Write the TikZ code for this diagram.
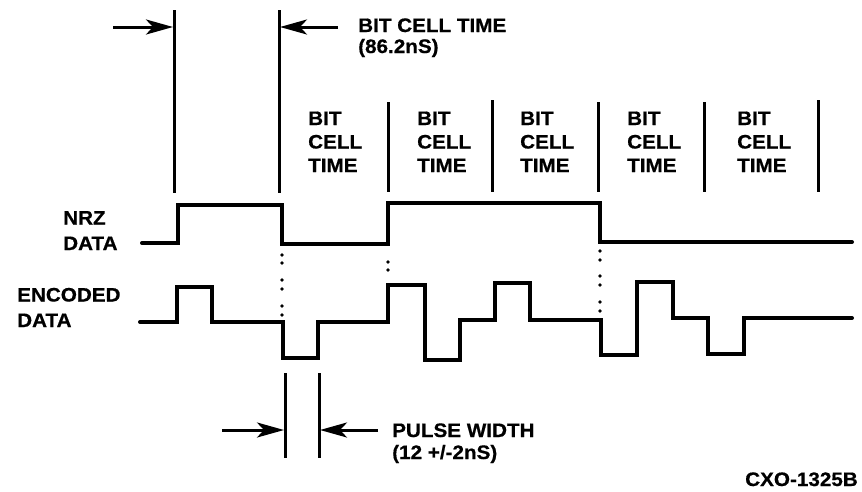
\documentclass[tikz,border=0pt]{standalone}
\usepackage{fontspec}
\setmainfont{Liberation Sans}[FakeStretch=1.06,BoldFeatures={FakeBold=0.6}]
\usetikzlibrary{arrows.meta}
\begin{document}
\begin{tikzpicture}[x=1pt,y=-1pt,
  wave/.style={line width=4pt,line join=miter,line cap=round},
  divider/.style={line width=3pt},
  arr/.style={line width=3pt,-{Stealth[length=27pt,width=15pt,inset=7pt]}},
  lbl/.style={inner sep=0pt,anchor=base west,align=left,
    font=\bfseries\fontsize{19.5}{25.5}\selectfont},
  cell/.style={lbl,font=\bfseries\fontsize{19.5}{23.5}\selectfont},
  dot/.style={fill=black}]
\useasboundingbox (0,0) rectangle (862,491);
% vertical reference lines
\coordinate (v1t) at (174,10); \coordinate (v1b) at (174,193);
\coordinate (v2t) at (279,10); \coordinate (v2b) at (279,193);
\draw[divider] (v1t) -- (v1b);
\draw[divider] (v2t) -- (v2b);
\foreach \x/\t in {388/102,492/100,598/102,704/102,818/100}{
  \draw[divider] (\x,\t) -- (\x,192);
}
% top arrows
\coordinate (a1s) at (113,27); \coordinate (a1e) at (173,27);
\coordinate (a2s) at (338,27); \coordinate (a2e) at (280,27);
\draw[arr] (a1s) -- (a1e);
\draw[arr] (a2s) -- (a2e);
\node[lbl] (bct) at (358,32) {BIT CELL TIME};
\node[lbl] (bctv) at (358,53) {(86.2nS)};
% cell labels (anchor at baseline of last line)
\foreach \x/\n in {308/c1,417/c2,520/c3,627/c4,737/c5}{
  \node[cell] (\n) at (\x,172) {BIT\\CELL\\TIME};
}
% signal labels
\node[lbl] (nrz) at (63,250) {NRZ\\DATA};
\node[lbl] (enc) at (17,327) {ENCODED\\DATA};
% NRZ waveform
\draw[wave] (142,243) -- (178,243) -- (178,205) -- (282,205) -- (282,244)
  -- (388,244) -- (388,203) -- (600,203) -- (600,242) -- (852,242);
% encoded waveform
\draw[wave] (140,322) -- (177,322) -- (177,287) -- (212,287) -- (212,322)
  -- (283,322) -- (283,358) -- (318,358) -- (318,322) -- (388,322)
  -- (388,285) -- (425,285) -- (425,360) -- (460,360) -- (460,320)
  -- (495,320) -- (495,283) -- (530,283) -- (530,320) -- (601,320)
  -- (601,355) -- (637,355) -- (637,282) -- (673,282) -- (673,318)
  -- (708,318) -- (708,354) -- (744,354) -- (744,318) -- (852,318);
% dotted alignment marks
\foreach \y in {255,263,280,289,306,315}{\fill[dot] (282,\y) circle (1.8);}
\foreach \y in {262,270}{\fill[dot] (388,\y) circle (1.8);}
\foreach \y in {251,260,276,285,302,311}{\fill[dot] (600,\y) circle (1.8);}
% pulse width
\coordinate (p1t) at (285,373); \coordinate (p1b) at (285,458);
\coordinate (p2t) at (319,373); \coordinate (p2b) at (319,458);
\draw[divider] (p1t) -- (p1b);
\draw[divider] (p2t) -- (p2b);
\coordinate (b1s) at (222,430); \coordinate (b1e) at (284,430);
\coordinate (b2s) at (378,430); \coordinate (b2e) at (320,430);
\draw[arr] (b1s) -- (b1e);
\draw[arr] (b2s) -- (b2e);
\node[lbl] (pw) at (392,437) {PULSE WIDTH};
\node[lbl] (pwv) at (392,459) {(12 +/-2nS)};
\node[lbl,anchor=base east] (id) at (858,486) {CXO-1325B};
\end{tikzpicture}
\end{document}
